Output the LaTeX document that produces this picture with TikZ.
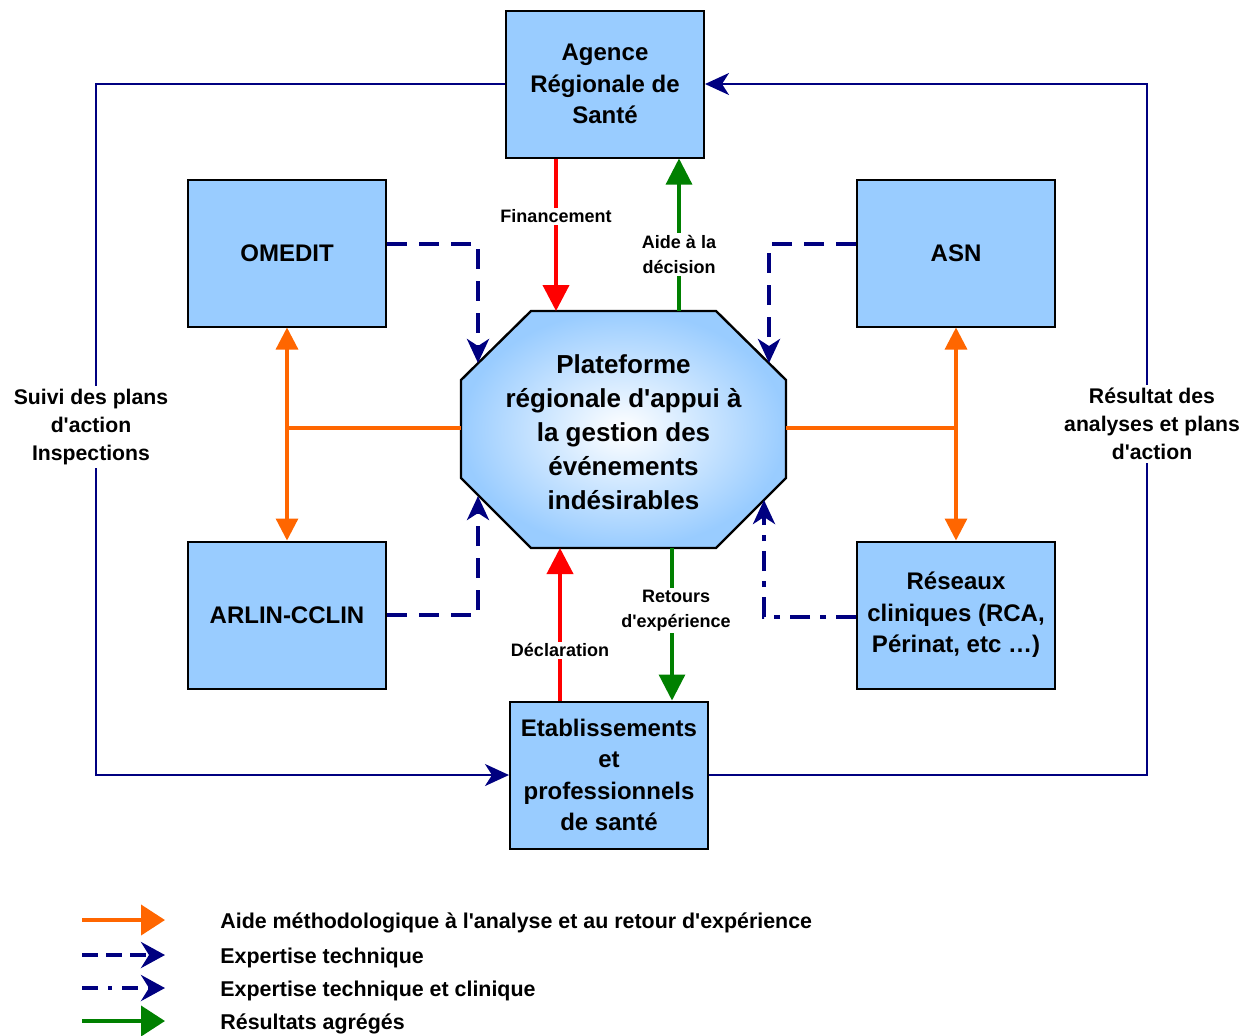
\documentclass[tikz,border=0pt]{standalone}
\usepackage{fontspec}
\setmainfont{Liberation Sans}[Ligatures=TeXOff]
\usetikzlibrary{arrows.meta,positioning}
\definecolor{boxblue}{RGB}{153,204,255}
\definecolor{navy}{RGB}{0,0,128}
\definecolor{redflux}{RGB}{255,0,0}
\definecolor{greenflux}{RGB}{0,128,0}
\definecolor{orangeflux}{RGB}{255,102,0}
\tikzset{
  box/.style={draw=black, line width=1pt, fill=boxblue, minimum width=99pt,
    minimum height=73.5pt, align=center, inner sep=1pt,
    font=\bfseries\fontsize{12}{15.7}\selectfont},
  lbl/.style={fill=white, text=black, align=center, inner sep=1pt,
    font=\bfseries\fontsize{9}{12.5}\selectfont},
  sidelbl/.style={fill=white, text=black, align=center, inner sep=1.5pt,
    font=\bfseries\fontsize{10.6}{14}\selectfont},
  navytip/.style={-{Stealth[length=12pt,width=11pt,inset=3.5pt]}},
  frame/.style={navy, line width=1pt, navytip},
  redflow/.style={redflux, line width=2pt, -{Triangle[length=13pt,width=13pt]}},
  greenflow/.style={greenflux, line width=1.6pt, -{Triangle[length=13pt,width=13pt]}},
  orangeline/.style={orangeflux, line width=1.6pt},
  orangeflow/.style={orangeline, {Triangle[length=11pt,width=11pt]}-{Triangle[length=11pt,width=11pt]}},
  expert/.style={navy, line width=2pt, dash pattern=on 10pt off 6pt, navytip},
  expertclin/.style={navy, line width=2pt, dash pattern=on 10pt off 5pt on 3pt off 5pt, navytip},
  legtext/.style={anchor=west, inner sep=0pt, text=black, font=\bfseries\fontsize{10.7}{12}\selectfont},
  legorange/.style={orangeflux, line width=2pt, -{Triangle[length=12pt,width=15pt]}},
  legnavy/.style={navy, line width=2pt, dash pattern=on 8pt off 4pt, -{Stealth[length=12pt,width=13pt,inset=4pt]}},
  legnavyclin/.style={navy, line width=2pt, dash pattern=on 8pt off 5pt on 2pt off 5pt, -{Stealth[length=12pt,width=13pt,inset=4pt]}},
  leggreen/.style={greenflux, line width=2pt, -{Triangle[length=12pt,width=15pt]}},
}
\begin{document}
\begin{tikzpicture}[x=0.5pt, y=-0.5pt]
\useasboundingbox (0,0) rectangle (1245,1035);
% boxes
\node[box] (ars) at (605,84) {Agence\\Régionale de\\Santé};
\node[box] (omedit) at (287,253) {OMEDIT};
\node[box] (asn) at (956,253) {ASN};
\node[box] (arlin) at (287,615) {ARLIN-CCLIN};
\node[box] (reseaux) at (956,615) {Réseaux\\cliniques (RCA,\\Périnat, etc \dots)};
\node[box] (etab) at (609,775) {Etablissements\\et\\professionnels\\de santé};
% octagone central
\coordinate (o1) at (531,311);
\coordinate (o2) at (716,311);
\coordinate (o3) at (786,380);
\coordinate (o4) at (786,478);
\coordinate (o5) at (716,548);
\coordinate (o6) at (531,548);
\coordinate (o7) at (461,478);
\coordinate (o8) at (461,380);
\shadedraw[inner color=white, outer color=boxblue, draw=black, line width=1.2pt]
  (o1) -- (o2) -- (o3) -- (o4) -- (o5) -- (o6) -- (o7) -- (o8) -- cycle;
\node[align=center, font=\bfseries\fontsize{13}{17}\selectfont] (plat) at (623.5,432)
  {Plateforme\\régionale d'appui à\\la gestion des\\événements\\indésirables};
% cadre exterieur
\draw[frame] (ars.west) -| (96,775) -- (etab.west);
\draw[frame] (etab.east) -| (1147,84) -- (ars.east);
\node[sidelbl] (suivi) at (91,427) {Suivi des plans\\d'action\\Inspections};
\node[sidelbl] (resultat) at (1152,424) {Résultat des\\analyses et plans\\d'action};
% flux verticaux
\coordinate (fin) at (556,311);
\coordinate (aide) at (679,311);
\coordinate (decl) at (560,548);
\coordinate (retour) at (672,548);
\draw[redflow] (fin |- ars.south) -- (fin) node[lbl, pos=0.38] (finlbl) {Financement};
\draw[greenflow] (aide) -- (aide |- ars.south) node[lbl, pos=0.37] (aidelbl) {Aide à la\\décision};
\draw[redflow] (decl |- etab.north) -- (decl) node[lbl, pos=0.33] (decllbl) {Déclaration};
\draw[greenflow] (retour) -- (retour |- etab.north) node[lbl, pos=0.41, xshift=2pt] (retourlbl) {Retours\\d'expérience};
% aide methodologique
\coordinate (oleft) at (461,428);
\coordinate (oright) at (786,428);
\draw[orangeline] (oleft) -- (oleft -| omedit.south);
\draw[orangeline] (oright) -- (oright -| asn.south);
\draw[orangeflow] (omedit.south) -- (arlin.north);
\draw[orangeflow] (asn.south) -- (reseaux.north);
% expertise
\coordinate (tipUL) at (478,363);
\coordinate (tipUR) at (769,363);
\coordinate (tipLL) at (478,496);
\coordinate (tipLR) at (764,500);
\draw[expert] ([yshift=4.5pt]omedit.east) -| (tipUL);
\draw[expert] ([yshift=4.5pt]asn.west) -| (tipUR);
\draw[expert] (arlin.east) -| (tipLL);
\draw[expertclin] ([yshift=-1pt]reseaux.west) -| (tipLR);
% legende
\foreach \i/\y/\sty/\txt in {1/920/legorange/{Aide méthodologique à l'analyse et au retour d'expérience},
    2/955/legnavy/{Expertise technique},
    3/988/legnavyclin/{Expertise technique et clinique},
    4/1021/leggreen/{Résultats agrégés}} {
  \coordinate (ls\i) at (82,\y);
  \coordinate (le\i) at (165,\y);
  \draw[\sty] (ls\i) -- (le\i);
  \node[legtext] (lt\i) at (220,\y+3) {\txt};
}
\end{tikzpicture}
\end{document}
